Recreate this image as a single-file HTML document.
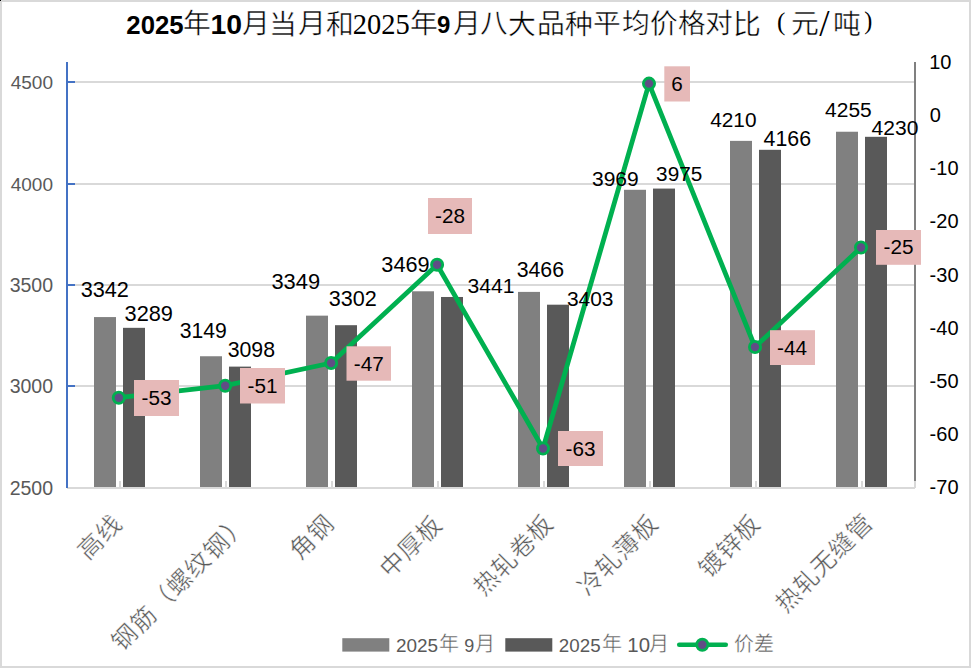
<!DOCTYPE html>
<html lang="zh-CN"><head><meta charset="utf-8">
<style>
html,body{margin:0;padding:0;background:#fff;}
body{width:971px;height:668px;overflow:hidden;position:relative;}
svg{position:absolute;left:0;top:0;}
.num{font-family:"Liberation Sans",sans-serif;}
.cjk{font-family:"Liberation Serif",serif;}
</style></head><body>
<svg width="971" height="668" viewBox="0 0 971 668">
<rect x="0" y="0" width="971" height="668" fill="#fff"/>
<rect x="1" y="1" width="969" height="666" fill="none" stroke="#d9d9d9" stroke-width="2"/>
<rect x="75" y="81" width="839" height="2" fill="#d9d9d9"/>
<rect x="75" y="183" width="839" height="2" fill="#d9d9d9"/>
<rect x="75" y="284" width="839" height="2" fill="#d9d9d9"/>
<rect x="75" y="385" width="839" height="2" fill="#d9d9d9"/>
<rect x="119" y="481" width="2" height="6" fill="#d9d9d9"/>
<rect x="225" y="481" width="2" height="6" fill="#d9d9d9"/>
<rect x="331" y="481" width="2" height="6" fill="#d9d9d9"/>
<rect x="437" y="481" width="2" height="6" fill="#d9d9d9"/>
<rect x="543" y="481" width="2" height="6" fill="#d9d9d9"/>
<rect x="649" y="481" width="2" height="6" fill="#d9d9d9"/>
<rect x="755" y="481" width="2" height="6" fill="#d9d9d9"/>
<rect x="861" y="481" width="2" height="6" fill="#d9d9d9"/>
<rect x="94" y="317.07" width="22" height="170.93" fill="#808080"/>
<rect x="123" y="327.83" width="22" height="160.17" fill="#595959"/>
<rect x="200" y="356.25" width="22" height="131.75" fill="#808080"/>
<rect x="229" y="366.61" width="22" height="121.39" fill="#595959"/>
<rect x="306" y="315.65" width="22" height="172.35" fill="#808080"/>
<rect x="335" y="325.19" width="22" height="162.81" fill="#595959"/>
<rect x="412" y="291.29" width="22" height="196.71" fill="#808080"/>
<rect x="441" y="296.98" width="22" height="191.02" fill="#595959"/>
<rect x="518" y="291.90" width="22" height="196.10" fill="#808080"/>
<rect x="547" y="304.69" width="22" height="183.31" fill="#595959"/>
<rect x="624" y="189.79" width="22" height="298.21" fill="#808080"/>
<rect x="653" y="188.57" width="22" height="299.43" fill="#595959"/>
<rect x="730" y="140.87" width="22" height="347.13" fill="#808080"/>
<rect x="759" y="149.80" width="22" height="338.20" fill="#595959"/>
<rect x="836" y="131.73" width="22" height="356.27" fill="#808080"/>
<rect x="865" y="136.81" width="22" height="351.19" fill="#595959"/>
<rect x="67" y="487" width="848" height="2" fill="#d9d9d9"/>
<rect x="66" y="62" width="2" height="426" fill="#4472c4"/>
<rect x="68" y="81" width="7" height="2" fill="#4472c4"/>
<rect x="68" y="183" width="7" height="2" fill="#4472c4"/>
<rect x="68" y="284" width="7" height="2" fill="#4472c4"/>
<rect x="68" y="385" width="7" height="2" fill="#4472c4"/>
<rect x="914" y="62" width="2" height="419" fill="#808080"/>
<rect x="914" y="481" width="2" height="7" fill="#d9d9d9"/>
<rect x="0" y="0" width="1" height="1" fill="#000"/>
<polyline points="118.8,397.7 225.2,385.7 331.1,363.0 437.1,264.7 543.0,448.5 649.0,83.6 755.0,347.0 861.0,247.5" fill="none" stroke="#00b050" stroke-width="4.8" stroke-linejoin="round"/>
<circle cx="118.8" cy="397.7" r="5.6" fill="#604d85" stroke="#00b050" stroke-width="2.8"/>
<circle cx="225.2" cy="385.7" r="5.6" fill="#604d85" stroke="#00b050" stroke-width="2.8"/>
<circle cx="331.1" cy="363.0" r="5.6" fill="#604d85" stroke="#00b050" stroke-width="2.8"/>
<circle cx="437.1" cy="264.7" r="5.6" fill="#604d85" stroke="#00b050" stroke-width="2.8"/>
<circle cx="543.0" cy="448.5" r="5.6" fill="#604d85" stroke="#00b050" stroke-width="2.8"/>
<circle cx="649.0" cy="83.6" r="5.6" fill="#604d85" stroke="#00b050" stroke-width="2.8"/>
<circle cx="755.0" cy="347.0" r="5.6" fill="#604d85" stroke="#00b050" stroke-width="2.8"/>
<circle cx="861.0" cy="247.5" r="5.6" fill="#604d85" stroke="#00b050" stroke-width="2.8"/>
<rect x="134" y="380" width="45.0" height="36.0" fill="#e6b9b8"/>
<rect x="240" y="368" width="45.0" height="35.5" fill="#e6b9b8"/>
<rect x="346.5" y="346.3" width="44.5" height="34.4" fill="#e6b9b8"/>
<rect x="428" y="198" width="44.0" height="36.0" fill="#e6b9b8"/>
<rect x="558" y="431" width="45.0" height="35.0" fill="#e6b9b8"/>
<rect x="664.3" y="66.3" width="25.7" height="35.2" fill="#e6b9b8"/>
<rect x="770" y="330.2" width="45.0" height="34.8" fill="#e6b9b8"/>
<rect x="876" y="230" width="45.0" height="34.8" fill="#e6b9b8"/>
<text class="num" x="141.50" y="405.00" font-size="20.7" fill="#000">-53</text>
<text class="num" x="247.50" y="392.75" font-size="20.7" fill="#000">-51</text>
<text class="num" x="353.75" y="370.50" font-size="20.7" fill="#000">-47</text>
<text class="num" x="435.00" y="223.00" font-size="20.7" fill="#000">-28</text>
<text class="num" x="565.50" y="455.50" font-size="20.7" fill="#000">-63</text>
<text class="num" x="671.15" y="90.90" font-size="20.7" fill="#000">6</text>
<text class="num" x="777.00" y="354.60" font-size="20.7" fill="#000">-44</text>
<text class="num" x="883.50" y="254.40" font-size="20.7" fill="#000">-25</text>
<text class="num" x="80.65" y="296.73" font-size="21.69" fill="#000">3342</text>
<text class="num" x="124.55" y="320.77" font-size="21.78" fill="#000">3289</text>
<text class="num" x="179.68" y="337.86" font-size="21.17" fill="#000">3149</text>
<text class="num" x="227.67" y="356.81" font-size="21.31" fill="#000">3098</text>
<text class="num" x="271.44" y="288.70" font-size="21.88" fill="#000">3349</text>
<text class="num" x="328.66" y="306.05" font-size="21.59" fill="#000">3302</text>
<text class="num" x="381.35" y="271.93" font-size="21.69" fill="#000">3469</text>
<text class="num" x="467.58" y="292.94" font-size="21.12" fill="#000">3441</text>
<text class="num" x="516.67" y="277.01" font-size="21.31" fill="#000">3466</text>
<text class="num" x="566.89" y="305.93" font-size="20.94" fill="#000">3403</text>
<text class="num" x="591.98" y="185.66" font-size="21.03" fill="#000">3969</text>
<text class="num" x="656.10" y="181.07" font-size="20.75" fill="#000">3975</text>
<text class="num" x="710.20" y="126.75" font-size="20.84" fill="#000">4210</text>
<text class="num" x="763.60" y="145.62" font-size="21.34" fill="#000">4166</text>
<text class="num" x="825.10" y="116.74" font-size="20.98" fill="#000">4255</text>
<text class="num" x="871.50" y="134.72" font-size="21.07" fill="#000">4230</text>
<text class="num" x="10.70" y="88.56" font-size="19.03" fill="#595959">4500</text>
<text class="num" x="10.70" y="190.56" font-size="19.03" fill="#595959">4000</text>
<text class="num" x="9.63" y="291.73" font-size="19.52" fill="#595959">3500</text>
<text class="num" x="9.63" y="392.73" font-size="19.52" fill="#595959">3000</text>
<text class="num" x="9.63" y="494.73" font-size="19.52" fill="#595959">2500</text>
<text class="num" x="929.25" y="68.70" font-size="20.00" fill="#000">10</text>
<text class="num" x="929.75" y="121.90" font-size="20.00" fill="#000">0</text>
<text class="num" x="929.60" y="175.10" font-size="20.00" fill="#000">-10</text>
<text class="num" x="929.60" y="228.30" font-size="20.00" fill="#000">-20</text>
<text class="num" x="929.60" y="281.50" font-size="20.00" fill="#000">-30</text>
<text class="num" x="929.60" y="334.70" font-size="20.00" fill="#000">-40</text>
<text class="num" x="929.60" y="387.90" font-size="20.00" fill="#000">-50</text>
<text class="num" x="929.60" y="441.10" font-size="20.00" fill="#000">-60</text>
<text class="num" x="929.60" y="494.30" font-size="20.00" fill="#000">-70</text>
<text class="num" x="126.37" y="33.80" font-size="25.74" font-weight="bold" fill="#000">2025</text>
<text class="num" x="210.43" y="33.80" font-size="28.40" font-weight="bold" fill="#000">10</text>
<text class="num" x="437.10" y="33.40" font-size="24.00" font-weight="bold" fill="#000">9</text>
<text class="cjk" x="352.85" y="33.80" font-size="28.51" fill="#000">2025</text>
<text class="cjk" x="819.32" y="36.00" font-size="37.07" fill="#000">/</text>
<text class="cjk" x="776.91" y="30.16" font-size="25.25" fill="#000">(</text>
<text class="cjk" x="864.28" y="29.47" font-size="24.24" fill="#000">)</text>
<text class="cjk" x="183.00" y="33.45" font-size="27.80" stroke="#fff" stroke-width="0.45" fill="#000">年</text>
<text class="cjk" x="242.10" y="33.45" font-size="27.80" stroke="#fff" stroke-width="0.45" fill="#000">月</text>
<text class="cjk" x="269.45" y="33.95" font-size="27.80" stroke="#fff" stroke-width="0.45" fill="#000">当</text>
<text class="cjk" x="297.65" y="33.45" font-size="27.80" stroke="#fff" stroke-width="0.45" fill="#000">月</text>
<text class="cjk" x="325.85" y="33.95" font-size="27.80" stroke="#fff" stroke-width="0.45" fill="#000">和</text>
<text class="cjk" x="409.95" y="33.45" font-size="27.80" stroke="#fff" stroke-width="0.45" fill="#000">年</text>
<text class="cjk" x="452.70" y="33.45" font-size="27.80" stroke="#fff" stroke-width="0.45" fill="#000">月</text>
<text class="cjk" x="480.15" y="32.95" font-size="27.80" stroke="#fff" stroke-width="0.45" fill="#000">八</text>
<text class="cjk" x="508.10" y="33.95" font-size="27.80" stroke="#fff" stroke-width="0.45" fill="#000">大</text>
<text class="cjk" x="537.25" y="33.45" font-size="27.80" stroke="#fff" stroke-width="0.45" fill="#000">品</text>
<text class="cjk" x="565.00" y="33.95" font-size="27.80" stroke="#fff" stroke-width="0.45" fill="#000">种</text>
<text class="cjk" x="593.35" y="33.45" font-size="27.80" stroke="#fff" stroke-width="0.45" fill="#000">平</text>
<text class="cjk" x="622.15" y="33.45" font-size="27.80" stroke="#fff" stroke-width="0.45" fill="#000">均</text>
<text class="cjk" x="650.00" y="32.95" font-size="27.80" stroke="#fff" stroke-width="0.45" fill="#000">价</text>
<text class="cjk" x="677.65" y="33.45" font-size="27.80" stroke="#fff" stroke-width="0.45" fill="#000">格</text>
<text class="cjk" x="704.65" y="33.45" font-size="27.80" stroke="#fff" stroke-width="0.45" fill="#000">对</text>
<text class="cjk" x="733.25" y="33.95" font-size="27.80" stroke="#fff" stroke-width="0.45" fill="#000">比</text>
<text class="cjk" x="790.85" y="33.45" font-size="27.80" stroke="#fff" stroke-width="0.45" fill="#000">元</text>
<text class="cjk" x="832.50" y="33.95" font-size="27.80" stroke="#fff" stroke-width="0.45" fill="#000">吨</text>
<text class="num" x="395.95" y="652.00" font-size="18.95" fill="#595959">2025</text>
<text class="cjk" x="439.15" y="651.45" font-size="20.00" stroke="#fff" stroke-width="0.4" fill="#595959">年</text>
<text class="num" x="464.30" y="652.00" font-size="18.00" fill="#595959">9</text>
<text class="cjk" x="475.25" y="650.95" font-size="20.00" stroke="#fff" stroke-width="0.4" fill="#595959">月</text>
<text class="num" x="558.86" y="651.70" font-size="18.76" fill="#595959">2025</text>
<text class="cjk" x="602.45" y="651.45" font-size="20.00" stroke="#fff" stroke-width="0.4" fill="#595959">年</text>
<text class="num" x="627.37" y="651.70" font-size="20.40" fill="#595959">10</text>
<text class="cjk" x="649.40" y="650.95" font-size="20.00" stroke="#fff" stroke-width="0.4" fill="#595959">月</text>
<text class="cjk" x="733.55" y="650.75" font-size="20.00" stroke="#fff" stroke-width="0.4" fill="#595959">价</text>
<text class="cjk" x="754.35" y="651.25" font-size="20.00" stroke="#fff" stroke-width="0.4" fill="#595959">差</text>
<text class="cjk" x="0" y="0" font-size="24.5" letter-spacing="1.2" fill="#595959" stroke="#fff" stroke-width="0.4" text-anchor="end" transform="translate(124.10,525.50) rotate(-45)">高线</text>
<text class="cjk" x="0" y="0" font-size="24.5" letter-spacing="1.8" fill="#595959" stroke="#fff" stroke-width="0.4" text-anchor="end" transform="translate(250.20,524.10) rotate(-45)">钢筋（螺纹钢）</text>
<text class="cjk" x="0" y="0" font-size="24.5" letter-spacing="1.2" fill="#595959" stroke="#fff" stroke-width="0.4" text-anchor="end" transform="translate(335.90,525.00) rotate(-45)">角钢</text>
<text class="cjk" x="0" y="0" font-size="24.5" letter-spacing="1.2" fill="#595959" stroke="#fff" stroke-width="0.4" text-anchor="end" transform="translate(443.50,525.70) rotate(-45)">中厚板</text>
<text class="cjk" x="0" y="0" font-size="24.5" letter-spacing="1.2" fill="#595959" stroke="#fff" stroke-width="0.4" text-anchor="end" transform="translate(555.20,525.60) rotate(-45)">热轧卷板</text>
<text class="cjk" x="0" y="0" font-size="24.5" letter-spacing="1.2" fill="#595959" stroke="#fff" stroke-width="0.4" text-anchor="end" transform="translate(659.70,525.60) rotate(-45)">冷轧薄板</text>
<text class="cjk" x="0" y="0" font-size="24.5" letter-spacing="1.2" fill="#595959" stroke="#fff" stroke-width="0.4" text-anchor="end" transform="translate(762.30,525.60) rotate(-45)">镀锌板</text>
<text class="cjk" x="0" y="0" font-size="24.5" letter-spacing="1.2" fill="#595959" stroke="#fff" stroke-width="0.4" text-anchor="end" transform="translate(874.90,524.50) rotate(-45)">热轧无缝管</text>
<rect x="342.3" y="638.2" width="47" height="13.4" fill="#808080"/>
<rect x="505.3" y="638.2" width="47" height="13.4" fill="#595959"/>
<line x1="679.2" y1="644.8" x2="725.8" y2="644.8" stroke="#00b050" stroke-width="4.5" stroke-linecap="round"/>
<circle cx="702.3" cy="644.8" r="5.6" fill="#604d85" stroke="#00b050" stroke-width="2.8"/>
</svg></body></html>
